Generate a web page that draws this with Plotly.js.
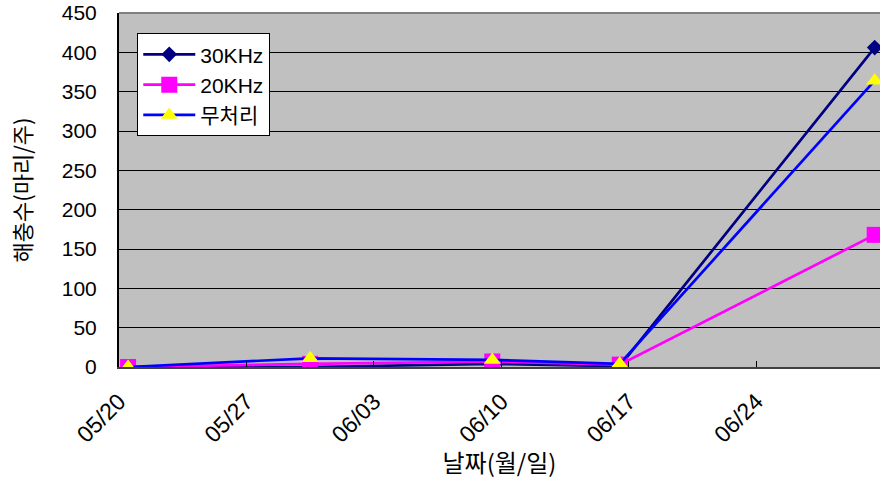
<!DOCTYPE html>
<html><head><meta charset="utf-8">
<script src="https://cdn.plot.ly/plotly-3.0.1.min.js"></script>
<style>html,body{margin:0;padding:0;background:#fff}#chart{width:881px;height:479px}</style>
</head><body><div id="chart"></div>
<script>
const dates = ['2008-05-20','2008-05-30','2008-06-09','2008-06-16','2008-06-30'];
const khz30 = [0, 0, 4, 1, 406];
const khz20 = [0, 4, 7, 3, 168];
const untreated = [0, 11, 9, 4, 364];
const seriesNames = ['30KHz','20KHz','무처리'];
const yTitle = '해충수(마리/주)';
const xTitle = '날짜(월/일)';

const common = {type:'scatter', mode:'lines+markers', x:dates,
  xperiod:86400000, xperiodalignment:'middle', cliponaxis:true};
const traces = [
  Object.assign({}, common, {name:seriesNames[0], y:khz30,
    line:{color:'#000080', width:2.7}, marker:{symbol:'diamond', size:12, color:'#000080'}}),
  Object.assign({}, common, {name:seriesNames[1], y:khz20,
    line:{color:'#FF00FF', width:2.7}, marker:{symbol:'square', size:16, color:'#FF00FF'}}),
  Object.assign({}, common, {name:seriesNames[2], y:untreated,
    line:{color:'#0000FF', width:2.7}, marker:{symbol:'triangle-up', size:15, color:'#FFFF00'}})
];
const numFont = {family:'Liberation Sans, Arial, sans-serif', size:21, color:'#000'};
const layout = {
  width:881, height:479,
  margin:{l:119, r:1, t:13, b:112},
  paper_bgcolor:'#fff', plot_bgcolor:'#C0C0C0',
  showlegend:true,
  legend:{x:0.024, y:0.943, xanchor:'left', yanchor:'top', bgcolor:'#fff',
    bordercolor:'#000', borderwidth:1, itemwidth:52,
    font:{family:'Liberation Sans, Noto Sans CJK KR, sans-serif', size:21, color:'#000'},
    tracegroupgap:0},
  xaxis:{type:'date', range:['2008-05-20','2008-06-30 19:00'],
    tick0:'2008-05-20', dtick:7*86400000, tickformat:'%m/%d', tickangle:-45,
    ticks:'inside', ticklen:6, tickcolor:'#000', showgrid:false, zeroline:false,
    showline:true, linecolor:'#404040', linewidth:2,
    ticklabelstandoff:10,
    tickfont:{family:'Liberation Sans, Arial, sans-serif', size:23, color:'#000'},
    title:{text:xTitle, font:{family:'Noto Sans CJK KR, sans-serif', size:24, color:'#000'}, standoff:4}},
  yaxis:{range:[0,450], dtick:50, showgrid:true, gridcolor:'#000', gridwidth:1,
    zeroline:false, showline:true, linecolor:'#000', linewidth:2,
    ticks:'', ticklabelstandoff:16,
    tickfont:numFont,
    title:{text:yTitle, font:{family:'Noto Sans CJK KR, sans-serif', size:22, color:'#000'}, standoff:24}},
  shapes:[{type:'line', xref:'paper', yref:'paper', x0:0, x1:1, y0:1, y1:1,
    line:{color:'#808080', width:2}}]
};
Plotly.newPlot('chart', traces, layout, {displayModeBar:false, staticPlot:true});
</script></body></html>
